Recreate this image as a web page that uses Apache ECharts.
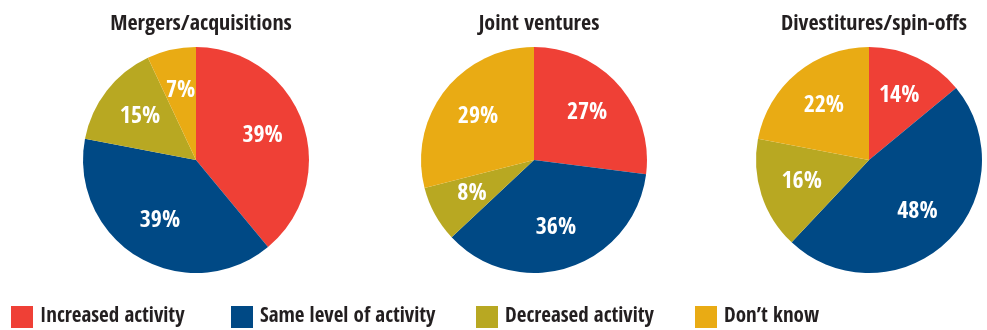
<!DOCTYPE html>
<html>
<head>
<meta charset="utf-8">
<script src="https://cdn.jsdelivr.net/npm/echarts@6/dist/echarts.min.js"></script>
<style>
  html, body { margin: 0; padding: 0; background: #ffffff; }
  #chart { width: 987px; height: 330px; }
</style>
</head>
<body>
<div id="chart"></div>
<script>
// Survey answers: expected change in deal activity, by deal type
const categories = ['Increased activity', 'Same level of activity', 'Decreased activity', 'Don\u2019t know'];
const pieTitles = ['Mergers/acquisitions', 'Joint ventures', 'Divestitures/spin-offs'];
const mergersValues = [39, 39, 15, 7];
const jointVenturesValues = [27, 36, 8, 29];
const divestituresValues = [14, 48, 16, 22];

const colors = ['#ef4036', '#004985', '#b8a822', '#e9ab14'];
const FONT = '"Open Sans Condensed", "Roboto Condensed", "DejaVu Sans Condensed", sans-serif';
const TEXT = '#231f20';

const pieSets = [mergersValues, jointVenturesValues, divestituresValues];
const centersX = [196, 534, 869];
const centerY = 160;
const pieRadius = 113;
const legendX = [11, 231, 476, 695];

const chart = echarts.init(document.getElementById('chart'), null, { renderer: 'canvas' });

const toData = vals => vals.map((v, k) => ({ name: categories[k], value: v }));

// Visible pies (no labels)
const pies = pieSets.map((vals, i) => ({
  type: 'pie',
  center: [centersX[i], centerY],
  radius: [0, pieRadius],
  startAngle: 90,
  clockwise: true,
  silent: true,
  label: { show: false },
  labelLine: { show: false },
  itemStyle: { borderWidth: 0 },
  data: toData(vals)
}));

// Transparent companions carrying the percentage labels a bit further out
const labelPies = pieSets.map((vals, i) => ({
  type: 'pie',
  center: [centersX[i], centerY],
  radius: [0, pieRadius * 1.2],
  startAngle: 90,
  clockwise: true,
  silent: true,
  z: 3,
  itemStyle: { color: 'rgba(0,0,0,0)', borderWidth: 0 },
  label: {
    show: true,
    position: 'inside',
    formatter: '{c}%',
    fontFamily: FONT,
    fontWeight: 'bold',
    fontSize: 24,
    color: '#ffffff'
  },
  labelLine: { show: false },
  data: toData(vals)
}));

const option = {
  animation: false,
  color: colors,
  title: pieTitles.map((t, i) => ({
    text: t,
    left: centersX[i],
    top: 8,
    textAlign: 'center',
    textStyle: { fontFamily: FONT, fontWeight: 'bold', fontSize: 22, color: TEXT }
  })),
  legend: categories.map((c, i) => ({
    data: [c],
    left: legendX[i],
    top: 306,
    icon: 'rect',
    itemWidth: 22,
    itemHeight: 22,
    padding: 0,
    selectedMode: false,
    textStyle: { fontFamily: FONT, fontWeight: 'bold', fontSize: 21, color: TEXT, padding: [0, 0, 0, 2] }
  })),
  series: pies.concat(labelPies)
};

chart.setOption(option);
</script>
</body>
</html>
